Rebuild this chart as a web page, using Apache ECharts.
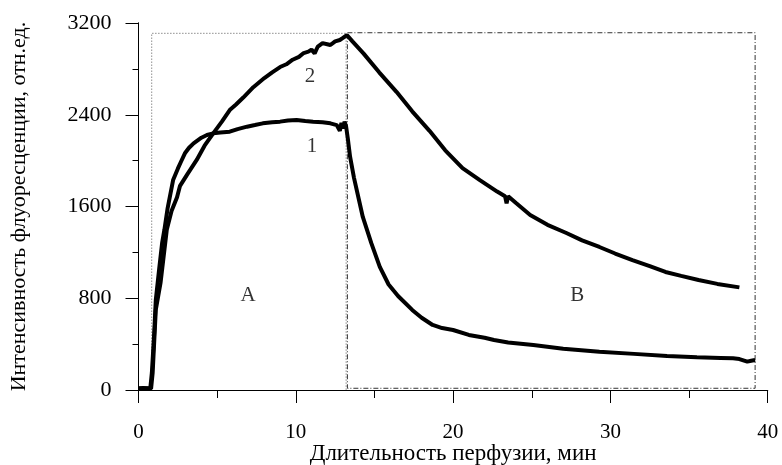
<!DOCTYPE html>
<html>
<head>
<meta charset="utf-8">
<script src="https://cdn.jsdelivr.net/npm/echarts@6/dist/echarts.min.js"></script>
<style>html,body{margin:0;padding:0;background:#fff}#c{width:782px;height:465px}</style>
</head>
<body>
<div id="c"></div>
<script>
// x: minutes, y: fluorescence intensity
var curve1 = [[0,15],[0.3,18],[0.6,15],[0.75,15],[0.85,150],[1.0,500],[1.1,785],[1.33,1075],[1.5,1280],[1.65,1400],[1.85,1584],[2.2,1831],[2.5,1930],[2.7,1990],[2.95,2064],[3.2,2110],[3.5,2151],[4.0,2200],[4.35,2223],[4.75,2238],[5.2,2245],[5.8,2252],[6.3,2275],[6.9,2296],[7.4,2310],[7.9,2325],[8.5,2335],[9.0,2340],[9.5,2350],[10.05,2354],[10.6,2345],[11.1,2340],[11.7,2335],[12.2,2325],[12.6,2310],[12.8,2260],[12.9,2330],[13.0,2280],[13.1,2340],[13.2,2296],[13.3,2200],[13.45,2034],[13.7,1850],[14.26,1509],[14.8,1280],[15.34,1073],[15.9,920],[16.5,820],[17.4,698],[18.0,630],[18.7,567],[19.3,540],[20.0,523],[21.0,480],[22.0,455],[22.6,436],[23.5,415],[25.1,392],[27.0,360],[29.3,334],[31.5,315],[33.6,296],[35.5,285],[37.0,280],[37.8,276],[38.2,270],[38.7,247],[38.95,255],[39.2,262]];
var curve2 = [[0,10],[0.5,12],[0.8,12],[0.9,150],[1.1,700],[1.4,933],[1.8,1400],[2.1,1560],[2.45,1680],[2.64,1780],[3.1,1880],[3.7,2006],[4.2,2130],[4.75,2238],[5.3,2340],[5.8,2441],[6.2,2490],[6.66,2550],[7.3,2640],[8.0,2720],[8.5,2770],[9.0,2816],[9.4,2840],[9.8,2880],[10.2,2905],[10.5,2938],[10.8,2950],[11.0,2968],[11.2,2935],[11.4,2995],[11.7,3025],[12.0,3015],[12.2,3008],[12.5,3040],[12.8,3052],[13.0,3070],[13.25,3095],[13.6,3040],[14.3,2935],[15.3,2770],[16.4,2600],[17.4,2430],[18.5,2260],[19.5,2090],[20.6,1935],[21.7,1830],[22.8,1730],[23.3,1690],[23.4,1628],[23.5,1690],[24.0,1630],[24.9,1526],[26.0,1440],[27.2,1369],[28.2,1305],[29.3,1247],[30.3,1190],[31.4,1133],[32.5,1080],[33.5,1029],[34.5,995],[35.6,959],[36.8,925],[38.2,895]];
var boxA = [[0.84,3],[0.84,3110],[13.2,3110],[13.2,3]];
var boxB = [[13.28,3115],[39.2,3115],[39.2,15],[13.28,15],[13.28,3115]];
var textLabels = [[6.96,828,'A'],[27.9,828,'B'],[11.03,2119,'1'],[10.9,2730,'2']];
var xMajorTicks = [0,10,20,30,40];
var xMinorStep = 5;
var yMajorTicks = [0,800,1600,2400,3200];
var yMinorStep = 400;
var xTitle = 'Длительность перфузии, мин';
var yTitle = 'Интенсивность флуоресценции, отн.ед.';

var FONT = 'Liberation Serif';
var xMin = xMajorTicks[0], xMax = xMajorTicks[xMajorTicks.length-1];
var yMin = yMajorTicks[0], yMax = yMajorTicks[yMajorTicks.length-1];
var blackLine = {color:'#000',width:1};
var chart = echarts.init(document.getElementById('c'), null, {renderer:'canvas'});
chart.setOption({
  backgroundColor:'#fff',
  animation:false,
  grid:{left:138.5,right:14.3,top:23,bottom:75,containLabel:false,outerBoundsMode:'none'},
  xAxis:[{
    type:'value',position:'bottom',min:xMin,max:xMax,interval:xMinorStep,
    axisLine:{show:true,lineStyle:blackLine},
    axisTick:{show:true,length:8,lineStyle:blackLine},
    axisLabel:{show:false},
    splitLine:{show:false}
  },{
    type:'value',position:'bottom',offset:0,min:xMin,max:xMax,interval:xMajorTicks[1]-xMajorTicks[0],
    name:xTitle,nameLocation:'middle',nameGap:52,nameMoveOverlap:false,
    nameTextStyle:{fontFamily:FONT,fontSize:23,color:'#000'},
    axisLine:{show:true,lineStyle:blackLine},
    axisTick:{show:true,length:13,lineStyle:blackLine},
    axisLabel:{fontFamily:FONT,fontSize:21,color:'#000',margin:32,formatter:function(v){return String(v);}},
    splitLine:{show:false}
  }],
  yAxis:[{
    type:'value',position:'left',min:yMin,max:yMax,interval:yMinorStep,
    axisLine:{show:true,lineStyle:blackLine},
    axisTick:{show:true,length:6,lineStyle:blackLine},
    axisLabel:{show:false},
    splitLine:{show:false}
  },{
    type:'value',position:'left',offset:0,min:yMin,max:yMax,interval:yMajorTicks[1]-yMajorTicks[0],
    name:yTitle,nameLocation:'middle',nameGap:108,nameRotate:90,nameMoveOverlap:false,
    nameTextStyle:{fontFamily:FONT,fontSize:22,color:'#000'},
    axisLine:{show:true,lineStyle:blackLine},
    axisTick:{show:true,length:13,lineStyle:blackLine},
    axisLabel:{fontFamily:FONT,fontSize:22,color:'#000',margin:27,formatter:function(v){return String(v);}},
    splitLine:{show:false}
  }],
  series:[
    {type:'line',data:boxA,symbol:'none',silent:true,lineStyle:{color:'#555',width:1,type:[1,2]},z:1},
    {type:'line',data:boxB,symbol:'none',silent:true,lineStyle:{color:'#333',width:1,type:[5,2,1,2]},z:1},
    {type:'line',data:curve1,symbol:'none',lineStyle:{color:'#000',width:4},z:3},
    {type:'line',data:curve2,symbol:'none',lineStyle:{color:'#000',width:4},z:3},
    {type:'scatter',data:textLabels,symbolSize:0,silent:true,
     label:{show:true,position:'inside',formatter:function(p){return p.data[2];},fontFamily:FONT,fontSize:21,color:'#000'},z:4}
  ]
});
</script>
</body>
</html>
